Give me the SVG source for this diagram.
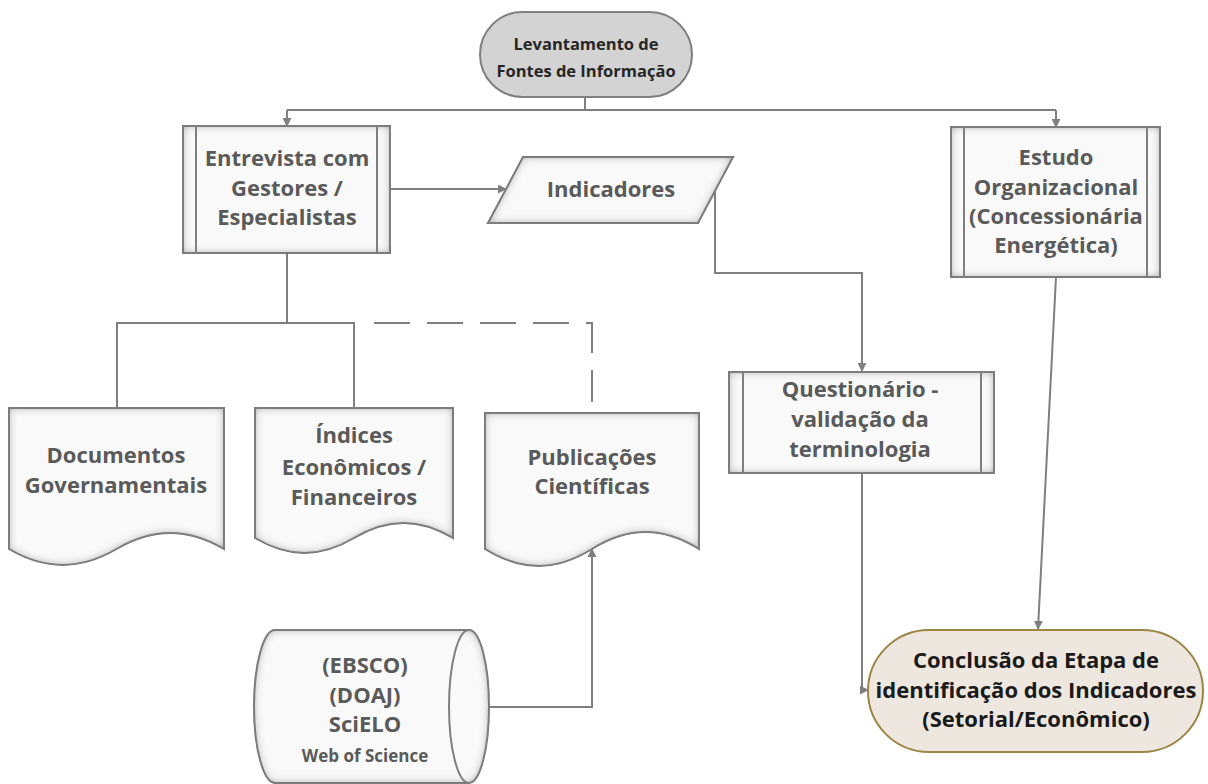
<svg xmlns="http://www.w3.org/2000/svg" width="1208" height="784" viewBox="0 0 1208 784">
<defs>
<style>
.node{fill:#f9f9f9;stroke:#7f7f7f;stroke-width:2;filter:url(#inset)}
.inner{fill:none;stroke:#7f7f7f;stroke-width:2}
.t{font-family:"Open Sans","Liberation Sans",sans-serif;font-weight:700;font-size:22px;fill:#5a5a5a;text-anchor:middle}
.title{font-size:16.5px;fill:#262626}
.concl{font-size:22px;fill:#1a1a1a}
.small{font-size:17px}
.conn{fill:none;stroke:#7f7f7f;stroke-width:2}
.dash{stroke-dasharray:36 17}
</style>
<filter id="inset" x="-10%" y="-10%" width="120%" height="120%">
<feGaussianBlur in="SourceAlpha" stdDeviation="5" result="b"/>
<feComposite in="SourceAlpha" in2="b" operator="arithmetic" k2="1" k3="-1" result="inner"/>
<feFlood flood-color="#7a7a7a" flood-opacity="1"/>
<feComposite in2="inner" operator="in" result="sh"/>
<feMerge><feMergeNode in="SourceGraphic"/><feMergeNode in="sh"/></feMerge>
</filter>
<marker id="arr" viewBox="0 0 10 10" refX="9" refY="5" markerWidth="9" markerHeight="9" markerUnits="userSpaceOnUse" orient="auto">
<path d="M0,0 L10,5 L0,10 Z" fill="#7f7f7f"/>
</marker>
</defs>

<g id="connectors">
<path class="conn" d="M585,97 V110"/>
<path class="conn" d="M287,110 H1056"/>
<path class="conn" d="M287,110 V126" marker-end="url(#arr)"/>
<path class="conn" d="M1056,110 V127" marker-end="url(#arr)"/>
<path class="conn" d="M390,189 H506" marker-end="url(#arr)"/>
<path class="conn" d="M715,191 V273 H862 V371" marker-end="url(#arr)"/>
<path class="conn" d="M287,253 V323"/>
<path class="conn" d="M117,408 V323 H354 V408"/>
<path class="conn dash" d="M374,323 H592 V402"/>
<path class="conn" d="M468,707 H592 V549" marker-end="url(#arr)"/>
<path class="conn" d="M862,473 V690 H868" marker-end="url(#arr)"/>
<path class="conn" d="M1056,277 L1038,629" marker-end="url(#arr)"/>
</g>

<g id="levantamento">
<rect x="480" y="12" width="212" height="85" rx="42.5" fill="#d3d3d3" stroke="#7f7f7f" stroke-width="2"/>
<text class="t title" x="586" y="50">Levantamento de</text>
<text class="t title" x="586" y="77">Fontes de Informação</text>
</g>

<g id="entrevista">
<rect class="node" x="183" y="126" width="207" height="127"/>
<path class="inner" d="M196,126 V253 M377,126 V253"/>
<text class="t" x="287" y="166">Entrevista com</text>
<text class="t" x="287" y="196">Gestores /</text>
<text class="t" x="287" y="225">Especialistas</text>
</g>

<g id="indicadores">
<path class="node" d="M523,157 H733 L698,223 H488 Z"/>
<text class="t" x="611" y="197">Indicadores</text>
</g>

<g id="estudo">
<rect class="node" x="951" y="127" width="209" height="150"/>
<path class="inner" d="M964,127 V277 M1147,127 V277"/>
<text class="t" x="1056" y="165">Estudo</text>
<text class="t" x="1056" y="195">Organizacional</text>
<text class="t" x="1056" y="224">(Concessionária</text>
<text class="t" x="1056" y="253">Energética)</text>
</g>

<g id="documentos">
<path class="node" d="M9,408 H224 V549 C187.5,527.7 153,527.7 116.5,549 C80,570.3 45.5,570.3 9,549 Z"/>
<text class="t" x="116" y="463">Documentos</text>
<text class="t" x="116" y="493">Governamentais</text>
</g>

<g id="indices">
<path class="node" d="M255,408 H453 V538 C419.3,518 387.7,518 354,538 C320.3,558 288.7,558 255,538 Z"/>
<text class="t" x="354" y="443">Índices</text>
<text class="t" x="354" y="475">Econômicos /</text>
<text class="t" x="354" y="505">Financeiros</text>
</g>

<g id="publicacoes">
<path class="node" d="M485,413 H699 V549 C662.6,526.4 628.4,526.4 592,549 C555.6,571.6 521.4,571.6 485,549 Z"/>
<text class="t" x="592" y="465">Publicações</text>
<text class="t" x="592" y="494">Científicas</text>
</g>

<g id="questionario">
<rect class="node" x="729" y="372" width="265" height="101"/>
<path class="inner" d="M743,372 V473 M981,372 V473"/>
<text class="t" x="860" y="397">Questionário -</text>
<text class="t" x="860" y="427">validação da</text>
<text class="t" x="860" y="457">terminologia</text>
</g>

<g id="bases">
<path class="node" d="M275,630 H469 A20,76.5 0 0 1 469,783 H275 A21,76.5 0 0 1 275,630 Z"/>
<path class="inner" d="M469,630 A20,76.5 0 0 0 469,783"/>
<text class="t" x="365" y="673">(EBSCO)</text>
<text class="t" x="365" y="703">(DOAJ)</text>
<text class="t" x="365" y="732">SciELO</text>
<text class="t small" x="365" y="762">Web of Science</text>
</g>

<g id="conclusao">
<rect x="868" y="630" width="335" height="122" rx="61" fill="#ede7df" stroke="#9c8545" stroke-width="2"/>
<text class="t concl" x="1036" y="668">Conclusão da Etapa de</text>
<text class="t concl" x="1036" y="698">identificação dos Indicadores</text>
<text class="t concl" x="1036" y="727">(Setorial/Econômico)</text>
</g>
</svg>
